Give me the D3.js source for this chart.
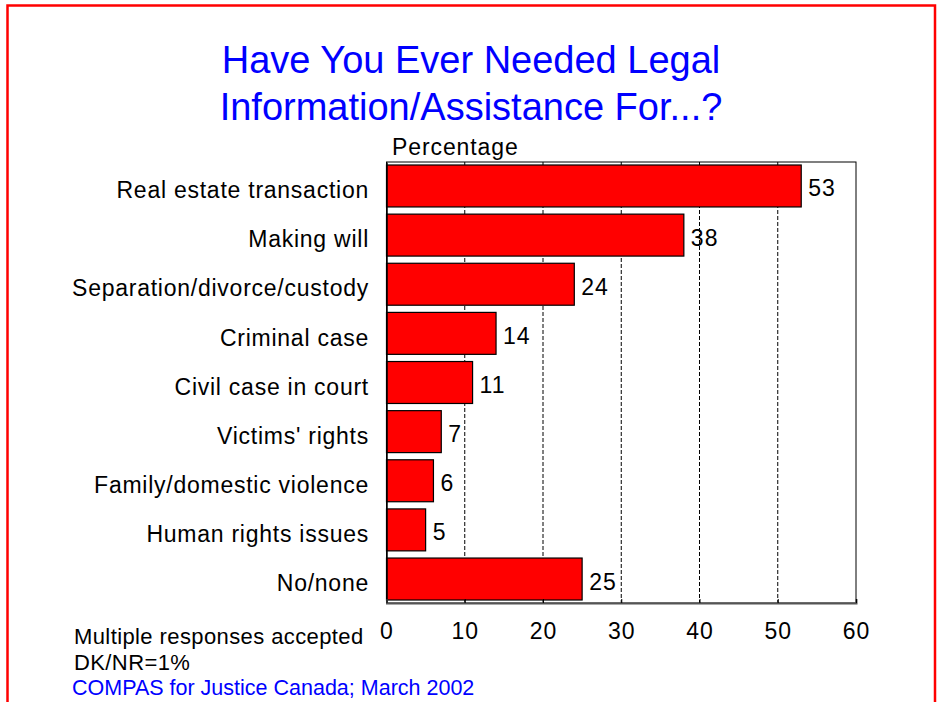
<!DOCTYPE html>
<html>
<head>
<meta charset="utf-8">
<script src="https://cdn.jsdelivr.net/npm/d3@7"></script>
<style>
  html, body { margin: 0; padding: 0; background: #fff; }
  svg { display: block; font-family: "Liberation Sans", Arial, sans-serif; }
</style>
</head>
<body>
<svg id="chart" width="938" height="702"></svg>
<script>
// Survey responses, top to bottom
const categories = [
  "Real estate transaction",
  "Making will",
  "Separation/divorce/custody",
  "Criminal case",
  "Civil case in court",
  "Victims' rights",
  "Family/domestic violence",
  "Human rights issues",
  "No/none"
];
const values = [53, 38, 24, 14, 11, 7, 6, 5, 25];
const xTicks = [0, 10, 20, 30, 40, 50, 60];
const titleLines = ["Have You Ever Needed Legal", "Information/Assistance For...?"];
const notes = ["Multiple responses accepted", "DK/NR=1%"];
const source = "COMPAS for Justice Canada; March 2002";

const FONT = "Liberation Sans, Arial, sans-serif";
const svg = d3.select("#chart");

// Outer red frame
svg.append("rect")
  .attr("x", 7.5).attr("y", 5.5).attr("width", 927.5).attr("height", 720)
  .attr("fill", "none").attr("stroke", "#ff0000").attr("stroke-width", 2.5);

// Plot area
const plot = { left: 386.5, right: 856, top: 162, bottom: 603 };

const x = d3.scaleLinear().domain([0, 60]).range([plot.left, plot.right]);
const y = d3.scaleBand().domain(categories).range([plot.top, plot.bottom])
  .paddingInner(0.146).paddingOuter(0.061);

// Title
svg.append("g").selectAll("text").data(titleLines).join("text")
  .attr("x", 471).attr("y", (d, i) => 73 + i * 47)
  .attr("text-anchor", "middle")
  .attr("fill", "#0000ff").attr("font-size", 38)
  .text(d => d);

// Axis caption
svg.append("text").attr("x", 392).attr("y", 155)
  .attr("font-size", 23).attr("letter-spacing", 0.9).attr("fill", "#000").text("Percentage");

// Plot frame
svg.append("rect")
  .attr("x", plot.left).attr("y", plot.top)
  .attr("width", plot.right - plot.left).attr("height", plot.bottom - plot.top)
  .attr("fill", "#fff").attr("stroke", "#000").attr("stroke-width", 1);

// Dashed gridlines
svg.append("g").selectAll("line").data(xTicks.filter(t => t > 0 && t < 60)).join("line")
  .attr("x1", d => x(d)).attr("x2", d => x(d))
  .attr("y1", plot.top).attr("y2", plot.bottom)
  .attr("stroke", "#000").attr("stroke-width", 1)
  .attr("stroke-dasharray", "4,2");

// Bars
svg.append("g").selectAll("rect").data(values).join("rect")
  .attr("x", x(0))
  .attr("y", (d, i) => y(categories[i]))
  .attr("width", d => x(d) - x(0))
  .attr("height", y.bandwidth())
  .attr("fill", "#ff0000").attr("stroke", "#000").attr("stroke-width", 1.2);

// Value labels
svg.append("g").selectAll("text").data(values).join("text")
  .attr("x", d => x(d) + 7)
  .attr("y", (d, i) => y(categories[i]) + y.bandwidth() / 2 + 10.5)
  .attr("font-size", 23).attr("letter-spacing", 1).attr("fill", "#000")
  .text(d => d);

// Category axis
const yAxis = svg.append("g").attr("transform", `translate(${plot.left},0)`)
  .call(d3.axisLeft(y).tickSize(0).tickPadding(17.5));
yAxis.select(".domain").attr("stroke", "#000").attr("stroke-width", 1.5);
yAxis.selectAll("text").attr("font-size", 23).attr("letter-spacing", 0.75)
  .attr("dy", "0.53em").attr("fill", "#000").attr("font-family", FONT);

// Value axis
const xAxis = svg.append("g").attr("transform", `translate(0,${plot.bottom})`)
  .call(d3.axisBottom(x).tickValues(xTicks).tickSize(-4).tickPadding(20));
xAxis.select(".domain").attr("stroke", "#555").attr("stroke-width", 2);
xAxis.selectAll(".tick line").attr("stroke", "#000");
xAxis.selectAll("text").attr("font-size", 23).attr("letter-spacing", 1)
  .attr("fill", "#000").attr("font-family", FONT);

// Notes
svg.append("g").selectAll("text").data(notes).join("text")
  .attr("x", 74).attr("y", (d, i) => 644 + i * 26)
  .attr("font-size", 22).attr("letter-spacing", 0.4).attr("fill", "#000").text(d => d);

svg.append("text").attr("x", 72).attr("y", 695)
  .attr("font-size", 21.5).attr("fill", "#0000ff").text(source);
</script>
</body>
</html>
